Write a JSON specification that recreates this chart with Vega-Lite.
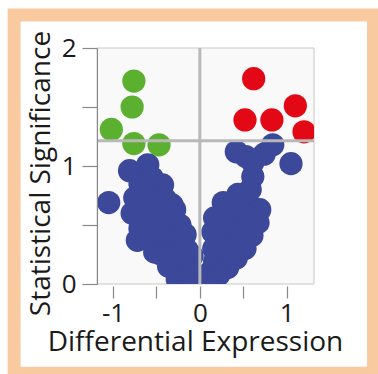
{
  "$schema": "https://vega.github.io/schema/vega-lite/v6.json",
  "autosize": "none",
  "width": 217,
  "height": 236,
  "padding": {"left": 97, "top": 48, "right": 64, "bottom": 90},
  "background": "white",
  "config": {
    "view": {"stroke": null},
    "font": "Open Sans"
  },
  "datasets": {
    "pts": [
      {"x": -0.76, "y": 1.72, "group": "down"},
      {"x": -0.78, "y": 1.50, "group": "down"},
      {"x": -1.02, "y": 1.31, "group": "down"},
      {"x": -0.76, "y": 1.19, "group": "down"},
      {"x": -0.47, "y": 1.18, "group": "down"},
      {"x": 0.62, "y": 1.74, "group": "up"},
      {"x": 0.52, "y": 1.39, "group": "up"},
      {"x": 0.83, "y": 1.39, "group": "up"},
      {"x": 1.10, "y": 1.51, "group": "up"},
      {"x": 1.20, "y": 1.29, "group": "up"},
      {"x": -0.81, "y": 0.96, "group": "ns"},
      {"x": -0.60, "y": 1.01, "group": "ns"},
      {"x": -0.69, "y": 0.85, "group": "ns"},
      {"x": -0.55, "y": 0.90, "group": "ns"},
      {"x": -0.43, "y": 0.84, "group": "ns"},
      {"x": -0.75, "y": 0.73, "group": "ns"},
      {"x": -0.62, "y": 0.76, "group": "ns"},
      {"x": -0.52, "y": 0.71, "group": "ns"},
      {"x": -0.40, "y": 0.72, "group": "ns"},
      {"x": -0.32, "y": 0.67, "group": "ns"},
      {"x": -1.05, "y": 0.69, "group": "ns"},
      {"x": -0.78, "y": 0.60, "group": "ns"},
      {"x": -0.66, "y": 0.62, "group": "ns"},
      {"x": -0.58, "y": 0.58, "group": "ns"},
      {"x": -0.44, "y": 0.60, "group": "ns"},
      {"x": -0.29, "y": 0.63, "group": "ns"},
      {"x": -0.69, "y": 0.47, "group": "ns"},
      {"x": -0.57, "y": 0.48, "group": "ns"},
      {"x": -0.46, "y": 0.47, "group": "ns"},
      {"x": -0.34, "y": 0.49, "group": "ns"},
      {"x": -0.23, "y": 0.50, "group": "ns"},
      {"x": -0.72, "y": 0.37, "group": "ns"},
      {"x": -0.60, "y": 0.38, "group": "ns"},
      {"x": -0.48, "y": 0.36, "group": "ns"},
      {"x": -0.36, "y": 0.37, "group": "ns"},
      {"x": -0.25, "y": 0.37, "group": "ns"},
      {"x": -0.17, "y": 0.42, "group": "ns"},
      {"x": -0.52, "y": 0.27, "group": "ns"},
      {"x": -0.44, "y": 0.25, "group": "ns"},
      {"x": -0.35, "y": 0.25, "group": "ns"},
      {"x": -0.24, "y": 0.26, "group": "ns"},
      {"x": -0.15, "y": 0.29, "group": "ns"},
      {"x": -0.36, "y": 0.15, "group": "ns"},
      {"x": -0.26, "y": 0.14, "group": "ns"},
      {"x": -0.14, "y": 0.17, "group": "ns"},
      {"x": -0.09, "y": 0.24, "group": "ns"},
      {"x": -0.26, "y": 0.04, "group": "ns"},
      {"x": -0.17, "y": 0.04, "group": "ns"},
      {"x": -0.07, "y": 0.08, "group": "ns"},
      {"x": -0.09, "y": 0.00, "group": "ns"},
      {"x": 0.42, "y": 1.12, "group": "ns"},
      {"x": 0.84, "y": 1.18, "group": "ns"},
      {"x": 0.74, "y": 1.10, "group": "ns"},
      {"x": 1.05, "y": 1.02, "group": "ns"},
      {"x": 0.53, "y": 1.08, "group": "ns"},
      {"x": 0.61, "y": 1.03, "group": "ns"},
      {"x": 0.61, "y": 0.91, "group": "ns"},
      {"x": 0.58, "y": 0.80, "group": "ns"},
      {"x": 0.44, "y": 0.76, "group": "ns"},
      {"x": 0.55, "y": 0.69, "group": "ns"},
      {"x": 0.27, "y": 0.69, "group": "ns"},
      {"x": 0.39, "y": 0.68, "group": "ns"},
      {"x": 0.69, "y": 0.63, "group": "ns"},
      {"x": 0.17, "y": 0.56, "group": "ns"},
      {"x": 0.29, "y": 0.57, "group": "ns"},
      {"x": 0.40, "y": 0.58, "group": "ns"},
      {"x": 0.53, "y": 0.58, "group": "ns"},
      {"x": 0.67, "y": 0.52, "group": "ns"},
      {"x": 0.15, "y": 0.44, "group": "ns"},
      {"x": 0.26, "y": 0.45, "group": "ns"},
      {"x": 0.37, "y": 0.44, "group": "ns"},
      {"x": 0.49, "y": 0.45, "group": "ns"},
      {"x": 0.60, "y": 0.41, "group": "ns"},
      {"x": 0.16, "y": 0.30, "group": "ns"},
      {"x": 0.28, "y": 0.31, "group": "ns"},
      {"x": 0.40, "y": 0.29, "group": "ns"},
      {"x": 0.52, "y": 0.30, "group": "ns"},
      {"x": 0.17, "y": 0.19, "group": "ns"},
      {"x": 0.27, "y": 0.20, "group": "ns"},
      {"x": 0.32, "y": 0.14, "group": "ns"},
      {"x": 0.42, "y": 0.22, "group": "ns"},
      {"x": 0.12, "y": 0.10, "group": "ns"},
      {"x": 0.22, "y": 0.08, "group": "ns"},
      {"x": 0.17, "y": 0.04, "group": "ns"},
      {"x": 0.09, "y": 0.00, "group": "ns"}
    ]
  },
  "layer": [
    {
      "data": {"values": [{}]},
      "mark": {"type": "rect", "fill": "#f9c9a0", "clip": false},
      "encoding": {
        "x": {"datum": -2.215, "type": "quantitative", "scale": {"domain": [-1.185, 1.315], "nice": false, "zero": false}, "axis": {
          "zindex": 2,
          "title": "Differential Expression", "values": [-1, -0.5, 0, 0.5, 1],
          "labelExpr": "datum.value % 1 == 0 ? '' + datum.value : ''",
          "domain": false, "offset": 2, "tickSize": 12, "tickColor": "#888888", "tickWidth": 1.2,
          "labelFontSize": 26, "labelColor": "#1a1a1a", "labelPadding": 2, "labelOverlap": false,
          "titleFontSize": 28, "titleFontWeight": "normal", "titleColor": "#1a1a1a", "titlePadding": 2, "titleX": 98, "grid": false
        }},
        "x2": {"datum": 2.1},
        "y": {"datum": 2.335, "type": "quantitative", "scale": {"domain": [0, 2], "nice": false, "zero": false}, "axis": {
          "zindex": 2,
          "title": "Statistical Significance", "values": [0, 0.5, 1, 1.5, 2],
          "labelExpr": "datum.value % 1 == 0 ? '' + datum.value : ''",
          "domain": true, "domainColor": "#888888", "tickSize": 15, "tickColor": "#888888", "tickWidth": 1.2,
          "labelFontSize": 26, "labelColor": "#1a1a1a", "labelPadding": 6, "labelOverlap": false,
          "titleFontSize": 28, "titleFontWeight": "normal", "titleColor": "#1a1a1a", "titlePadding": 6, "titleY": 125, "grid": false
        }},
        "y2": {"datum": -0.8}
      }
    },
    {
      "data": {"values": [{}]},
      "mark": {"type": "rect", "fill": "white", "clip": false},
      "encoding": {
        "x": {"datum": -2.065, "type": "quantitative"},
        "x2": {"datum": 1.926},
        "y": {"datum": 2.225, "type": "quantitative"},
        "y2": {"datum": -0.702}
      }
    },
    {
      "data": {"values": [{}]},
      "mark": {"type": "rect", "fill": "#f9f9f9", "stroke": "#c8c8c8", "strokeWidth": 1},
      "encoding": {}
    },
    {
      "data": {"name": "pts"},
      "mark": {"type": "circle", "size": 540, "opacity": 1, "clip": true},
      "encoding": {
        "x": {"field": "x", "type": "quantitative"},
        "y": {"field": "y", "type": "quantitative"},
        "color": {
          "field": "group", "type": "nominal",
          "scale": {"domain": ["ns", "down", "up"], "range": ["#3c4899", "#5cb030", "#e30815"]},
          "legend": null
        }
      }
    },
    {
      "data": {"values": [{"v": 0}]},
      "mark": {"type": "rule", "color": "#b8b8b8", "strokeWidth": 3},
      "encoding": {"x": {"field": "v", "type": "quantitative"}}
    },
    {
      "data": {"values": [{"v": 1.215}]},
      "mark": {"type": "rule", "color": "#b8b8b8", "strokeWidth": 3},
      "encoding": {"y": {"field": "v", "type": "quantitative"}}
    }
  ]
}
